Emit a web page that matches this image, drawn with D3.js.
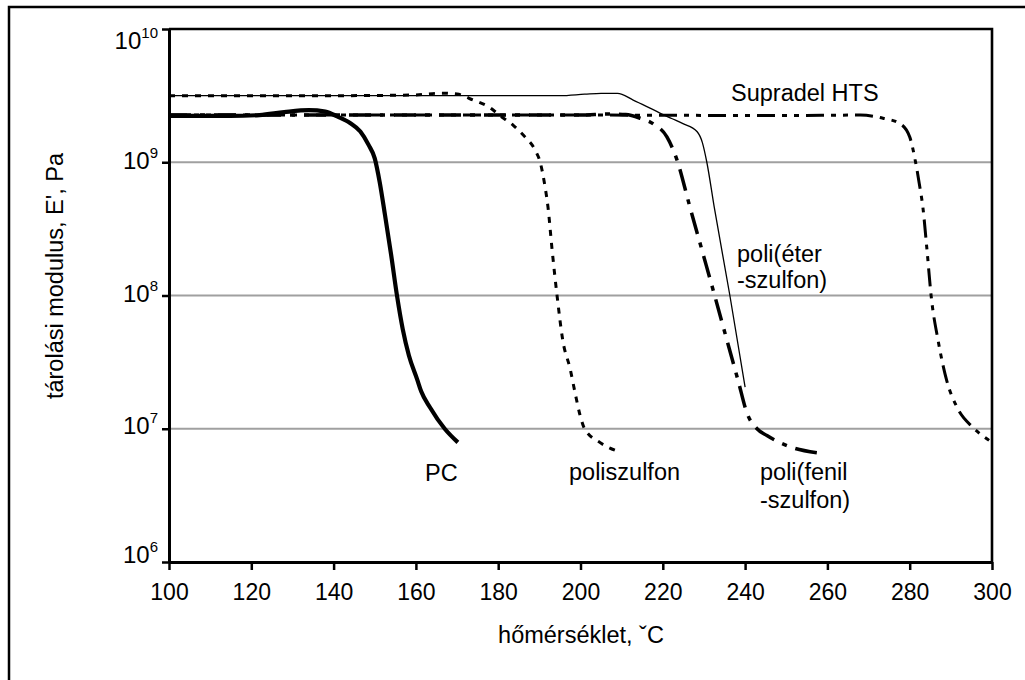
<!DOCTYPE html>
<html>
<head>
<meta charset="utf-8">
<script src="https://cdn.jsdelivr.net/npm/d3@7/dist/d3.min.js"></script>
<style>
  html, body { margin: 0; padding: 0; background: #fff; }
  svg { display: block; }
  text { font-family: "Liberation Sans", Arial, sans-serif; fill: #000; }
</style>
</head>
<body>
<svg id="chart" width="1025" height="680"></svg>
<script>
const xTicks = [100, 120, 140, 160, 180, 200, 220, 240, 260, 280, 300];
const yTicks = [1e6, 1e7, 1e8, 1e9, 1e10];
const yTickExp = ["6", "7", "8", "9", "10"];
const yLabelShift = [1, 5, 6, 7, 20];
const gridValues = [1e7, 1e8, 1e9];

const pcT = [100, 115, 122, 128, 134, 138, 141, 144, 146.5, 148.5, 150, 151.2, 152.5, 154, 155.4, 156.8, 158.3, 160.3, 161.3, 163.4, 167, 170.2];
const pcE = [2.23e9, 2.23e9, 2.26e9, 2.38e9, 2.46e9, 2.4e9, 2.2e9, 1.97e9, 1.7e9, 1.35e9, 1.07e9, 7.1e8, 4.0e8, 2.0e8, 1.0e8, 5.6e7, 3.55e7, 2.35e7, 1.9e7, 1.45e7, 1.0e7, 7.9e6];

const psuT = [100, 140, 160, 166, 170, 173.9, 178, 180.4, 183.6, 186.5, 189, 190.2, 191.4, 192.1, 193.1, 194.3, 195.7, 197.5, 198.7, 199.9, 201, 204.7, 208.9];
const psuE = [3.16e9, 3.16e9, 3.2e9, 3.3e9, 3.25e9, 2.93e9, 2.57e9, 2.24e9, 1.9e9, 1.55e9, 1.23e9, 1.0e9, 6.5e8, 4.6e8, 2.2e8, 1.0e8, 4.6e7, 2.8e7, 1.85e7, 1.26e7, 1.0e7, 7.9e6, 6.8e6];

const pesT = [100, 150, 195, 201, 205, 209, 212.8, 216, 219.3, 222, 224.9, 228.3, 229.6, 230.7, 232.5, 236.3, 240];
const pesE = [3.16e9, 3.16e9, 3.16e9, 3.24e9, 3.29e9, 3.29e9, 2.93e9, 2.63e9, 2.34e9, 2.14e9, 1.95e9, 1.7e9, 1.41e9, 1.0e9, 4.6e8, 1.0e8, 2.05e7];

const ppsuT = [100, 150, 200, 207, 211, 214.5, 217.6, 221, 223.4, 226.6, 229.5, 232.6, 235.6, 238.3, 240.5, 242.9, 245.3, 251.6, 257.5];
const ppsuE = [2.26e9, 2.26e9, 2.26e9, 2.3e9, 2.28e9, 2.14e9, 1.95e9, 1.55e9, 1.05e9, 4.6e8, 2.2e8, 1.0e8, 4.6e7, 2.3e7, 1.3e7, 1.0e7, 8.9e6, 7.2e6, 6.6e6];

const htsT = [100, 150, 200, 250, 268, 273.5, 277.6, 280, 281.3, 282.3, 283.2, 284.2, 285.2, 286.9, 289, 291.5, 295.4, 299, 300];
const htsE = [2.26e9, 2.26e9, 2.26e9, 2.24e9, 2.26e9, 2.14e9, 1.95e9, 1.55e9, 1.05e9, 7.0e8, 4.6e8, 2.2e8, 1.0e8, 4.6e7, 2.3e7, 1.45e7, 1.02e7, 8.3e6, 7.9e6];

const series = [
  { name: "PC", t: pcT, e: pcE, width: 4.2, dash: null },
  { name: "poliszulfon", t: psuT, e: psuE, width: 3, dash: "6,7" },
  { name: "poli(éter-szulfon)", t: pesT, e: pesE, width: 1.3, dash: null },
  { name: "poli(fenil-szulfon)", t: ppsuT, e: ppsuE, width: 3.5, dash: "22,9,5,9" },
  { name: "Supradel HTS", t: htsT, e: htsE, width: 3, dash: "18,7,5,7,5,7" }
];

const seriesLabels = [
  { lines: ["Supradel HTS"], x: 731, y: 101, lh: 0 },
  { lines: ["poli(éter", "-szulfon)"], x: 737, y: 262, lh: 25.5 },
  { lines: ["PC"], x: 425, y: 481, lh: 0 },
  { lines: ["poliszulfon"], x: 569, y: 480, lh: 0 },
  { lines: ["poli(fenil", "-szulfon)"], x: 760, y: 480, lh: 28 }
];

const svg = d3.select("#chart");
const margin = { left: 169, right: 992, top: 29, bottom: 562 };

svg.append("rect")
  .attr("x", 9).attr("y", 7)
  .attr("width", 1040).attr("height", 700)
  .attr("fill", "#fff")
  .attr("stroke", "#000")
  .attr("stroke-width", 2.5);

const x = d3.scaleLinear().domain([100, 300]).range([margin.left, margin.right]);
const y = d3.scaleLog().domain([1e6, 1e10]).range([margin.bottom, margin.top]);

svg.append("g")
  .selectAll("line")
  .data(gridValues)
  .enter()
  .append("line")
  .attr("x1", margin.left).attr("x2", margin.right)
  .attr("y1", d => y(d)).attr("y2", d => y(d))
  .attr("stroke", "#a0a0a0")
  .attr("stroke-width", 2);

svg.append("defs").append("clipPath").attr("id", "plot-clip")
  .append("rect")
  .attr("x", margin.left).attr("y", margin.top)
  .attr("width", margin.right - margin.left)
  .attr("height", margin.bottom - margin.top);

const line = d3.line()
  .x(d => x(d[0]))
  .y(d => y(d[1]))
  .curve(d3.curveMonotoneX);

svg.append("g")
  .attr("clip-path", "url(#plot-clip)")
  .selectAll("path")
  .data(series)
  .enter()
  .append("path")
  .attr("d", s => line(s.t.map((t, i) => [t, s.e[i]])))
  .attr("fill", "none")
  .attr("stroke", "#000")
  .attr("stroke-width", s => s.width)
  .attr("stroke-dasharray", s => s.dash)
  .attr("stroke-linejoin", "round");

// top and right frame
svg.append("path")
  .attr("d", `M${margin.left},${margin.top}H${margin.right}V${margin.bottom}`)
  .attr("fill", "none")
  .attr("stroke", "#000")
  .attr("stroke-width", 2.6);

const xAxis = svg.append("g")
  .attr("transform", `translate(0,${margin.bottom})`)
  .call(d3.axisBottom(x).tickValues(xTicks).tickSize(8).tickSizeOuter(0).tickPadding(14));

const yAxis = svg.append("g")
  .attr("transform", `translate(${margin.left},0)`)
  .call(d3.axisLeft(y).tickValues(yTicks).tickSize(7).tickSizeOuter(0).tickFormat(""));

[xAxis, yAxis].forEach(g => {
  g.select(".domain").attr("stroke", "#000").attr("stroke-width", 3);
  g.selectAll(".tick line").attr("stroke", "#000").attr("stroke-width", 2.5);
});

xAxis.selectAll(".tick text")
  .attr("font-size", "23px")
  .attr("font-family", "'Liberation Sans', Arial, sans-serif")
  .attr("fill", "#000");

const yLab = svg.append("g")
  .selectAll("text")
  .data(yTicks)
  .enter()
  .append("text")
  .attr("x", 158)
  .attr("y", (d, i) => y(d) + yLabelShift[i])
  .attr("text-anchor", "end")
  .attr("font-size", "24px");

yLab.append("tspan").text("10");
yLab.append("tspan")
  .attr("dy", -11)
  .attr("font-size", "15px")
  .text((d, i) => yTickExp[i]);

svg.append("text")
  .attr("transform", "translate(63,276) rotate(-90)")
  .attr("text-anchor", "middle")
  .attr("font-size", "23.5px")
  .text("tárolási modulus, E', Pa");

svg.append("text")
  .attr("x", 581)
  .attr("y", 643)
  .attr("text-anchor", "middle")
  .attr("font-size", "23.5px")
  .text("hőmérséklet, ˇC");

const lab = svg.append("g")
  .selectAll("text")
  .data(seriesLabels)
  .enter()
  .append("text")
  .attr("x", d => d.x)
  .attr("y", d => d.y)
  .attr("font-size", "23.5px");

lab.selectAll("tspan")
  .data(d => d.lines.map((l, i) => ({ l, i, d })))
  .enter()
  .append("tspan")
  .attr("x", o => o.d.x)
  .attr("dy", o => o.i === 0 ? 0 : o.d.lh)
  .text(o => o.l);
</script>
</body>
</html>
